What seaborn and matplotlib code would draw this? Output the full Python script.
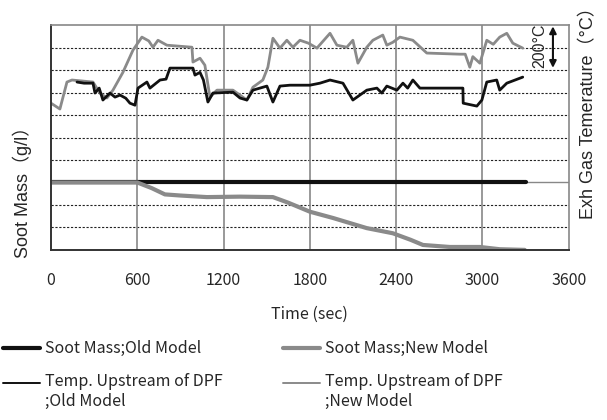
import numpy as np
import pandas as pd
import matplotlib
matplotlib.use("Agg")
import matplotlib.pyplot as plt
import seaborn as sns
from matplotlib.lines import Line2D
from matplotlib.legend_handler import HandlerLine2D

# soot mass (arbitrary grid units, 0-10)
soot_old_t = [0, 600, 1200, 1800, 2400, 3000, 3300]
soot_old_y = [3.0, 3.0, 3.0, 3.0, 3.0, 3.0, 3.0]

soot_new_t = [0, 600, 700, 792, 900, 1084, 1313, 1543, 1650, 1800, 1961,
              2195, 2377, 2500, 2586, 2773, 2982, 3120, 3294]
soot_new_y = [3.0, 3.0, 2.75, 2.47, 2.42, 2.35, 2.37, 2.35, 2.1, 1.7, 1.42,
              0.97, 0.74, 0.45, 0.22, 0.13, 0.13, 0.03, 0.0]

# exhaust gas temperature upstream of DPF
temp_old_t = [181, 230, 292, 306, 335, 361, 410, 445, 480, 520, 549, 584, 605, 667, 688,
              758, 800, 827, 987, 1001, 1036, 1060, 1091, 1126, 1265, 1314, 1362,
              1404, 1501, 1543, 1592, 1661, 1800, 1870, 1940, 2030, 2099, 2196,
              2266, 2300, 2335, 2405, 2447, 2480, 2516, 2565, 2864, 2866, 2961,
              2996, 3030, 3099, 3120, 3169, 3280]
temp_old_y = [7.47, 7.42, 7.42, 6.98, 7.2, 6.67, 6.98, 6.8, 6.89, 6.75, 6.53, 6.44, 7.2,
              7.47, 7.2, 7.56, 7.6, 8.09, 8.09, 7.78, 7.9, 7.56, 6.58, 6.98, 7.02,
              6.76, 6.67, 7.11, 7.29, 6.58, 7.29, 7.33, 7.33, 7.42, 7.56, 7.42, 6.67,
              7.11, 7.2, 6.98, 7.29, 7.11, 7.42, 7.2, 7.56, 7.2, 7.2, 6.53, 6.4,
              6.67, 7.47, 7.56, 7.11, 7.42, 7.69]

temp_new_t = [0, 62, 111, 146, 292, 340, 389, 431, 500, 570, 632, 680, 709, 744,
              806, 980, 987, 1036, 1070, 1105, 1154, 1265, 1362, 1404, 1473, 1508,
              1543, 1592, 1640, 1682, 1731, 1790, 1849, 1940, 1988, 2057, 2099,
              2134, 2196, 2238, 2307, 2335, 2377, 2426, 2516, 2613, 2843, 2880,
              2912, 2933, 2982, 3030, 3075, 3120, 3169, 3211, 3280]
temp_new_y = [6.53, 6.27, 7.47, 7.56, 7.47, 6.98, 6.76, 7.11, 7.9, 8.89, 9.47, 9.3,
              9.02, 9.33, 9.11, 9.02, 8.36, 8.53, 8.22, 6.8, 7.11, 7.11, 6.67, 7.24,
              7.56, 8.13, 9.42, 8.98, 9.33, 9.02, 9.33, 9.2, 8.98, 9.64, 9.11, 9.02,
              9.33, 8.31, 9.02, 9.33, 9.56, 9.11, 9.24, 9.47, 9.33, 8.76, 8.71, 8.71,
              8.13, 8.6, 8.31, 9.33, 9.15, 9.47, 9.64, 9.2, 8.98]

x_ticks = [0, 600, 1200, 1800, 2400, 3000, 3600]


class FirstLineHandler(HandlerLine2D):
    # put the swatch level with the first line of a two-line label
    def __init__(self, shift=0.0, **kw):
        super().__init__(**kw)
        self.shift = shift

    def create_artists(self, legend, orig_handle, xdescent, ydescent, width,
                       height, fontsize, trans):
        arts = super().create_artists(legend, orig_handle, xdescent, ydescent,
                                      width, height, fontsize, trans)
        for a in arts:
            a.set_ydata(np.asarray(a.get_ydata()) + self.shift * fontsize)
        return arts


sns.set_style("white")
plt.rcParams['font.family'] = ['Noto Sans CJK JP', 'DejaVu Sans']
label_font = ['Liberation Sans', 'Noto Sans CJK JP', 'DejaVu Sans']

fig = plt.figure(figsize=(6.07, 4.2), dpi=100)
ax = fig.add_axes([0.084, 0.405, 0.853, 0.535])

gray = "#8a8a8a"
sns.lineplot(x=temp_new_t, y=temp_new_y, ax=ax, color=gray, lw=2.0, estimator=None, sort=False)
sns.lineplot(x=temp_old_t, y=temp_old_y, ax=ax, color="#111111", lw=2.0, estimator=None, sort=False)
sns.lineplot(x=soot_old_t, y=soot_old_y, ax=ax, color="#111111", lw=3.0, estimator=None, sort=False)
sns.lineplot(x=soot_new_t, y=soot_new_y, ax=ax, color=gray, lw=3.0, estimator=None, sort=False)

ax.set_xlim(0, 3600)
ax.set_ylim(0, 10)
ax.set_xticks(x_ticks)
ax.set_xticklabels([str(t) for t in x_ticks], fontsize=11.5)
ax.tick_params(axis='x', length=0, pad=16)
ax.set_yticks(range(1, 10))
ax.set_yticklabels([])
ax.tick_params(axis='y', length=0)
for yv in range(1, 10):
    if yv == 3:
        ax.axhline(yv, color="#888888", lw=1.0, zorder=0)
    else:
        ax.axhline(yv, color="#222222", lw=0.8, ls=(0, (2, 1.5)), zorder=0)
for xv in x_ticks[1:-1]:
    ax.axvline(xv, color="#888888", lw=1.2, zorder=0)

for side in ['top', 'right']:
    ax.spines[side].set_color("#888888")
    ax.spines[side].set_linewidth(1.2)
for side in ['left', 'bottom']:
    ax.spines[side].set_color("#333333")
    ax.spines[side].set_linewidth(1.4)

ax.set_xlabel("Time (sec)", fontsize=11.5, labelpad=12)
ax.set_ylabel("Soot Mass（g/l）", fontsize=13, family=label_font)
ax.yaxis.set_label_coords(-0.037, 0.278)

ax2 = ax.twinx()
ax2.set_ylim(0, 10)
ax2.set_yticks([])
ax2.set_ylabel("Exh Gas Temerature（°C）", fontsize=13, family=label_font)
ax2.yaxis.set_label_coords(1.021, 0.627)
for side in ax2.spines.values():
    side.set_visible(False)

# 200 degC scale marker
ax.annotate("", xy=(3490, 9.95), xytext=(3490, 8.1),
            arrowprops=dict(arrowstyle="<|-|>", color="#111111", lw=1.5,
                            mutation_scale=10, shrinkA=0, shrinkB=0))
ax.text(3400, 9.1, "200°C", rotation=90, ha="center", va="center", fontsize=11.5,
        family=label_font)

handles = [
    Line2D([], [], color="#111111", lw=3.0),
    Line2D([], [], color="#111111", lw=1.4),
    Line2D([], [], color=gray, lw=3.0),
    Line2D([], [], color=gray, lw=1.4),
]
labels = ["Soot Mass;Old Model", "Temp. Upstream of DPF\n;Old Model",
          "Soot Mass;New Model", "Temp. Upstream of DPF\n;New Model"]
hmap = {handles[1]: FirstLineHandler(shift=0.6), handles[3]: FirstLineHandler(shift=0.6)}
fig.legend(handles, labels, ncol=2, loc="upper left", bbox_to_anchor=(-0.005, 0.205),
           frameon=False, fontsize=11.5, handlelength=2.3, handletextpad=0.3,
           columnspacing=3.8, labelspacing=1.0, borderaxespad=0, handler_map=hmap)

fig.savefig("out.png", dpi=100)
